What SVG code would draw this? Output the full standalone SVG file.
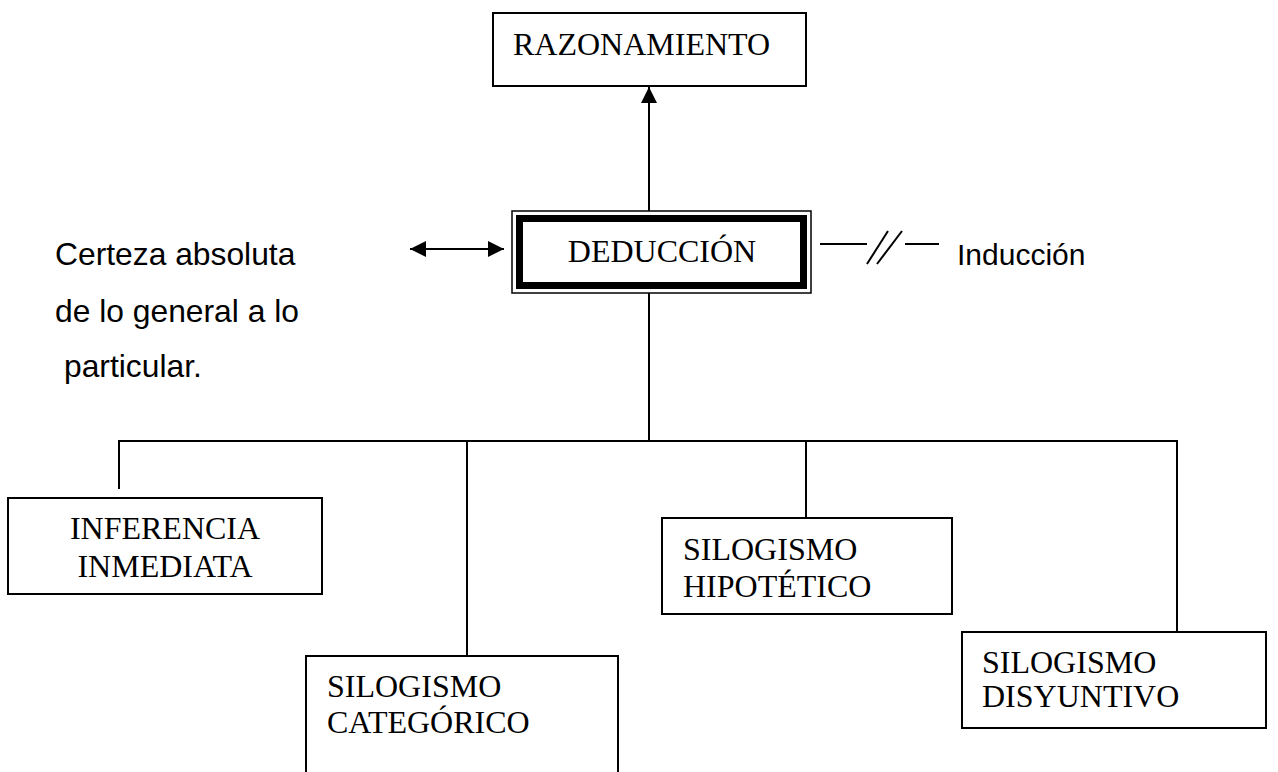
<svg xmlns="http://www.w3.org/2000/svg" width="1278" height="772" viewBox="0 0 1278 772">
<style>
.box{fill:#fff;stroke:#000;stroke-width:2}
.ln{fill:none;stroke:#000;stroke-width:2}
.tr{font-family:"Liberation Serif","Times New Roman",serif;font-size:32px;fill:#000}
.ar{font-family:"Liberation Sans",Arial,sans-serif;font-size:30px;fill:#000}
.ar2{font-family:"Liberation Sans",Arial,sans-serif;font-size:31.8px;fill:#000}
</style>
<defs>
<marker id="ah" viewBox="0 0 10 10" refX="10" refY="5" markerWidth="16" markerHeight="16" markerUnits="userSpaceOnUse" orient="auto-start-reverse">
<path d="M0,0 L10,5 L0,10 z" fill="#000"/>
</marker>
</defs>
<rect width="1278" height="772" fill="#fff"/>
<g id="connectors">
<line class="ln" x1="649" y1="211" x2="649" y2="87" marker-end="url(#ah)"/>
<line class="ln" x1="410" y1="249" x2="504" y2="249" marker-start="url(#ah)" marker-end="url(#ah)"/>
<line class="ln" x1="820" y1="244" x2="867" y2="244"/>
<line class="ln" x1="867" y1="264" x2="888" y2="231"/>
<line class="ln" x1="877" y1="264" x2="902" y2="231"/>
<line class="ln" x1="905" y1="244" x2="939" y2="244"/>
<line class="ln" x1="649" y1="293" x2="649" y2="441"/>
<polyline class="ln" points="119,489 119,441 1177,441 1177,632"/>
<line class="ln" x1="467" y1="441" x2="467" y2="656"/>
<line class="ln" x1="806" y1="441" x2="806" y2="518"/>
</g>
<g id="razonamiento">
<rect class="box" x="493" y="13" width="313" height="73"/>
<text class="tr" x="513" y="55">RAZONAMIENTO</text>
</g>
<g id="deduccion">
<rect x="512" y="211" width="299" height="82" fill="#fff" stroke="#000" stroke-width="1.5"/>
<rect x="519.5" y="218.5" width="284" height="67" fill="none" stroke="#000" stroke-width="7"/>
<text class="tr" x="662" y="262" text-anchor="middle">DEDUCCIÓN</text>
</g>
<g id="certeza">
<text class="ar2" x="55" y="265">Certeza absoluta</text>
<text class="ar2" x="55" y="322">de lo general a lo</text>
<text class="ar2" x="64" y="377">particular.</text>
</g>
<g id="induccion">
<text class="ar" x="957" y="265">Inducción</text>
</g>
<g id="inferencia">
<rect class="box" x="8" y="498" width="314" height="96"/>
<text class="tr" x="165" y="539" text-anchor="middle">INFERENCIA</text>
<text class="tr" x="165" y="577" text-anchor="middle">INMEDIATA</text>
</g>
<g id="categorico">
<rect class="box" x="306" y="656" width="312" height="130"/>
<text class="tr" x="327" y="697">SILOGISMO</text>
<text class="tr" x="327" y="733">CATEGÓRICO</text>
</g>
<g id="hipotetico">
<rect class="box" x="662" y="518" width="290" height="96"/>
<text class="tr" x="683" y="560">SILOGISMO</text>
<text class="tr" x="683" y="597">HIPOTÉTICO</text>
</g>
<g id="disyuntivo">
<rect class="box" x="962" y="632" width="304" height="96"/>
<text class="tr" x="982" y="673">SILOGISMO</text>
<text class="tr" x="982" y="707">DISYUNTIVO</text>
</g>
</svg>
